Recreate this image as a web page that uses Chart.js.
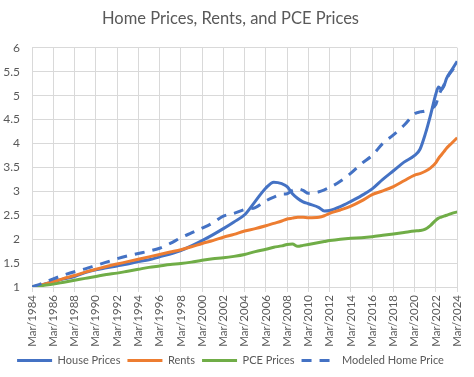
<!DOCTYPE html>
<html>
<head>
<meta charset="utf-8">
<script src="https://cdn.jsdelivr.net/npm/chart.js@4/dist/chart.umd.min.js"></script>
<style>
    html, body { margin: 0; padding: 0; background: #fff; }
</style>
</head>
<body>
<canvas id="chart" width="474" height="377"></canvas>
<script>
// decimal years, 1984 = Mar/1984
const dates = [1984, 1985, 1986, 1987, 1988, 1989, 1990, 1991, 1992, 1993,
    1994, 1995, 1996, 1997, 1998, 1999, 2000, 2001, 2002, 2003,
    2004, 2005, 2006, 2006.75, 2007.5, 2008, 2008.5, 2009, 2009.5, 2010,
    2011, 2011.5, 2012, 2013, 2014, 2015, 2016, 2017, 2018, 2019,
    2020, 2020.5, 2021, 2021.5, 2022, 2022.25, 2022.5, 2022.75, 2023, 2023.5, 2024];

const housePrices = [1.00, 1.05, 1.11, 1.17, 1.22, 1.30, 1.36, 1.40, 1.44, 1.48,
    1.53, 1.57, 1.63, 1.69, 1.76, 1.86, 1.97, 2.09, 2.22, 2.36,
    2.51, 2.79, 3.07, 3.19, 3.16, 3.10, 2.95, 2.85, 2.78, 2.74,
    2.66, 2.59, 2.60, 2.68, 2.79, 2.91, 3.05, 3.25, 3.43, 3.61,
    3.75, 3.88, 4.20, 4.60, 5.04, 5.18, 5.13, 5.20, 5.36, 5.54, 5.72];

const rents = [1.00, 1.05, 1.11, 1.18, 1.24, 1.31, 1.37, 1.43, 1.48, 1.53,
    1.58, 1.63, 1.68, 1.73, 1.78, 1.84, 1.91, 1.97, 2.04, 2.10,
    2.17, 2.22, 2.28, 2.33, 2.38, 2.42, 2.44, 2.46, 2.46, 2.45,
    2.46, 2.49, 2.54, 2.61, 2.69, 2.80, 2.93, 3.01, 3.10, 3.22,
    3.34, 3.37, 3.42, 3.49, 3.60, 3.69, 3.76, 3.83, 3.90, 4.01, 4.12];

const pcePrices = [1.00, 1.03, 1.06, 1.10, 1.14, 1.18, 1.22, 1.26, 1.29, 1.33,
    1.37, 1.41, 1.44, 1.47, 1.49, 1.52, 1.56, 1.59, 1.61, 1.64,
    1.68, 1.74, 1.79, 1.83, 1.86, 1.89, 1.90, 1.85, 1.87, 1.89,
    1.93, 1.95, 1.97, 2.00, 2.02, 2.03, 2.05, 2.08, 2.11, 2.14,
    2.17, 2.18, 2.21, 2.29, 2.40, 2.44, 2.46, 2.48, 2.50, 2.54, 2.57];

const modeledPrice = [1.00, 1.08, 1.17, 1.25, 1.32, 1.38, 1.45, 1.52, 1.59, 1.65,
    1.70, 1.75, 1.81, 1.91, 2.03, 2.13, 2.23, 2.34, 2.48, 2.54,
    2.62, 2.66, 2.80, 2.88, 2.94, 2.95, 3.02, 3.05, 3.02, 2.96,
    2.99, 3.03, 3.08, 3.21, 3.38, 3.58, 3.75, 4.00, 4.18, 4.38,
    4.62, 4.66, 4.68, 4.73, 4.82, 5.00, 5.12, 5.22, 5.35, 5.52, 5.66];

const seriesNames = ['House Prices', 'Rents', 'PCE Prices', 'Modeled Home Price'];
const seriesColors = ['#4472C4', '#ED7D31', '#70AD47', '#4472C4'];
const yTicks = { min: 1, max: 6, step: 0.5 };
const xTicks = { min: 1984, max: 2024, step: 2 };

const textColor = '#595959';
const gridColor = '#d9d9d9';
Chart.defaults.font.family = "Lato, 'Noto Sans', sans-serif";

function toPoints(values) {
    return values.map((v, i) => ({ x: dates[i], y: v }));
}

const allSeries = [housePrices, rents, pcePrices, modeledPrice];
const datasets = allSeries.map((values, i) => ({
    label: seriesNames[i],
    data: toPoints(values),
    borderColor: seriesColors[i],
    backgroundColor: seriesColors[i],
    borderWidth: 3,
    borderDash: i === 3 ? [10, 8] : [],
    pointRadius: 0,
    fill: false,
    cubicInterpolationMode: 'monotone',
    borderJoinStyle: 'round',
    order: allSeries.length - i
}));

// legend samples: take dash and width from the dataset, not the point
function legendLabels(chart) {
    const items = Chart.defaults.plugins.legend.labels.generateLabels(chart);
    items.forEach(item => {
        const ds = chart.data.datasets[item.datasetIndex];
        item.lineDash = ds.borderDash;
        item.lineWidth = ds.borderWidth;
        item.strokeStyle = ds.borderColor;
    });
    return items;
}

const ctx = document.getElementById('chart').getContext('2d');
new Chart(ctx, {
    type: 'line',
    data: { datasets: datasets },
    options: {
        responsive: false,
        animation: false,
        layout: { padding: { left: 0, right: 13, top: 0, bottom: 1 } },
        plugins: {
            title: {
                display: true,
                text: 'Home Prices, Rents, and PCE Prices',
                color: textColor,
                font: { size: 16.5, weight: 'normal' },
                padding: { top: 9, bottom: 19 }
            },
            legend: {
                position: 'bottom',
                labels: {
                    usePointStyle: true,
                    pointStyle: 'line',
                    pointStyleWidth: 35,
                    color: textColor,
                    font: { size: 11 },
                    padding: 7,
                    generateLabels: legendLabels,
                    sort: (a, b) => a.datasetIndex - b.datasetIndex
                }
            },
            tooltip: { enabled: false }
        },
        scales: {
            x: {
                type: 'linear',
                min: xTicks.min,
                max: xTicks.max,
                afterFit: scale => { scale.height = 61; },
                ticks: {
                    stepSize: xTicks.step,
                    autoSkip: false,
                    maxRotation: 90,
                    minRotation: 90,
                    padding: 3,
                    color: textColor,
                    font: { size: 11.5 },
                    callback: value => 'Mar/' + value
                },
                grid: { color: gridColor, tickLength: 5 },
                border: { color: gridColor }
            },
            y: {
                min: yTicks.min,
                max: yTicks.max,
                afterFit: scale => { scale.width = 32; },
                ticks: {
                    stepSize: yTicks.step,
                    padding: 12,
                    color: textColor,
                    font: { size: 12 },
                    callback: value => String(Number(value))
                },
                grid: { color: gridColor, drawTicks: false },
                border: { display: false }
            }
        }
    }
});
</script>
</body>
</html>
